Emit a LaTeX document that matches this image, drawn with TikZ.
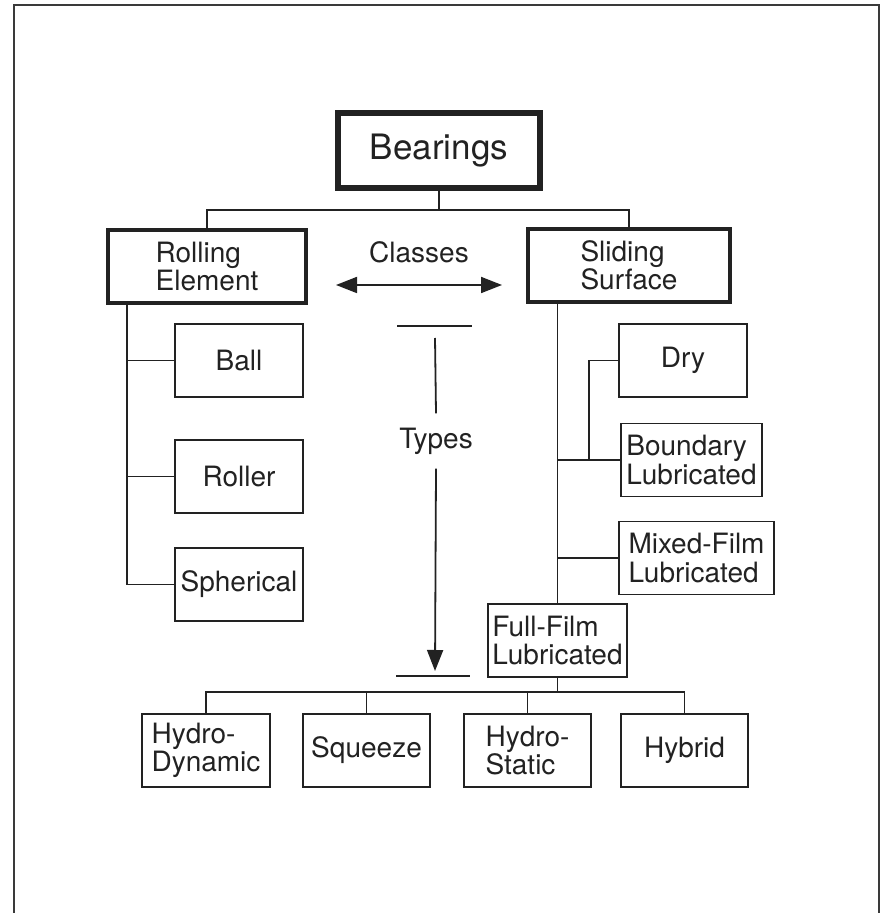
\documentclass[tikz,border=0pt]{standalone}
\usepackage{fontspec}
\setmainfont{TeX Gyre Heros}
\usetikzlibrary{arrows.meta}
\definecolor{ink}{HTML}{222222}
\definecolor{frameline}{HTML}{3A3A3A}

\begin{document}
\begin{tikzpicture}[
    x=0.5pt,
    y=-0.5pt,
    font=\fontsize{14}{14.2}\selectfont,
    text=ink,
    link/.style={draw=ink, line width=0.9pt},
    arrow/.style={link, -{Triangle[length=10.5pt,width=8pt]}},
    twoway/.style={link, {Triangle[length=10.5pt,width=8pt]}-{Triangle[length=10.5pt,width=8pt]}},
    card/.style={
        draw=ink,
        fill=white,
        line width=0.8pt,
        align=left,
        inner sep=0pt,
        minimum width=64pt,
        minimum height=36.5pt
    },
    classcard/.style={card, line width=1.8pt},
    rootcard/.style={card, line width=2.6pt, font=\fontsize{17.5}{20}\selectfont}
]
\useasboundingbox (0,0) rectangle (884,913);

% Page frame, cut off at the bottom.
\draw[frameline, line width=1pt] (14,913) -- (14,5) -- (879,5) -- (879,913);

% Root and the two classes.
\node[rootcard, minimum width=101pt, minimum height=37.5pt] (bearings) at (439,150.5) {Bearings};
\node[classcard, minimum width=99pt] (rolling) at (207,266.5) {Rolling\\Element};
\node[classcard, minimum width=101pt] (sliding) at (629,265.5) {Sliding\\Surface};

\coordinate (topbar) at (0,210);
\draw[link] (bearings.south) -- (bearings.south |- topbar);
\draw[link] (rolling.north) -- (rolling.north |- topbar) -- (sliding.north |- topbar) -- (sliding.north);

\node (classes) at (419,252) {Classes};
\coordinate (classleft) at (336,285);
\coordinate (classright) at (502,285);
\draw[twoway] (classleft) -- (classright);

% Rolling element types.
\node[card] (ball) at (239,360.5) {Ball};
\node[card] (roller) at (239,476.5) {Roller};
\node[card] (spherical) at (239,584.5) {Spherical};

\coordinate (ltrunk) at (127,0);
\draw[link] (ltrunk |- rolling.south) -- (ltrunk |- spherical.west) -- (spherical.west);
\draw[link] (ltrunk |- ball.west) -- (ball.west);
\draw[link] (ltrunk |- roller.west) -- (roller.west);

% Sliding surface types.
\node[card] (dry) at (683,360.5) {Dry};
\node[card, minimum width=70.5pt] (boundary) at (691.5,460) {Boundary\\Lubricated};
\node[card, minimum width=77.5pt] (mixed) at (696.5,558) {Mixed-Film\\Lubricated};
\node[card, minimum width=69.5pt] (fullfilm) at (557.5,640.5) {Full-Film\\Lubricated};

\coordinate (drytap) at (589,0);
\draw[link] (fullfilm.north |- sliding.south) -- (fullfilm.north);
\draw[link] (fullfilm.north |- boundary.west) -- (boundary.west);
\draw[link] (fullfilm.north |- mixed.west) -- (mixed.west);
\draw[link] (dry.west) -| (drytap |- boundary.west);

% Full-film subtypes.
\node[card] (hydrodyn) at (206,750.5) {Hydro-\\Dynamic};
\node[card, minimum width=63.5pt] (squeeze) at (366.5,750.5) {Squeeze};
\node[card, minimum width=63.5pt] (hydrostat) at (527.5,750.5) {Hydro-\\Static};
\node[card, minimum width=63.5pt] (hybrid) at (684.5,750.5) {Hybrid};

\coordinate (subbar) at (0,692);
\draw[link] (fullfilm.south) -- (fullfilm.south |- subbar);
\draw[link] (hydrodyn.north) -- (hydrodyn.north |- subbar) -- (hybrid.north |- subbar) -- (hybrid.north);
\draw[link] (squeeze.north) -- (squeeze.north |- subbar);
\draw[link] (hydrostat.north) -- (hydrostat.north |- subbar);

% Types scale between the two ticks.
\node[inner ysep=7pt] (types) at (436,441) {Types};
\coordinate (toptick) at (434.5,326);
\coordinate (bottick) at (433,676);
\coordinate (typestop) at (435,338);
\coordinate (typesend) at (435,671);
\draw[link] ([xshift=-18.75pt]toptick) -- ([xshift=18.75pt]toptick);
\draw[link] ([xshift=-18.5pt]bottick) -- ([xshift=18.5pt]bottick);
\draw[link] (typestop) -- (types.north);
\draw[arrow] (types.south) -- (typesend);

\end{tikzpicture}
\end{document}
